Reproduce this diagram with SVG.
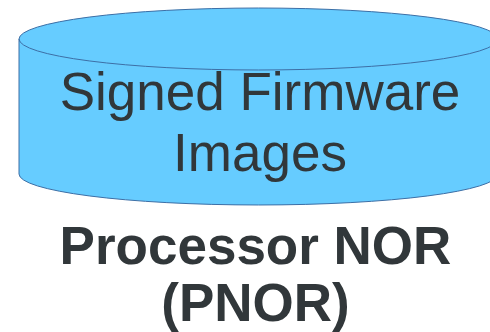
<svg xmlns="http://www.w3.org/2000/svg" width="490" height="332" viewBox="0 0 490 332">
  <style>
    .body { fill: #66ccff; stroke: #3d6fa6; stroke-width: 1; }
    .rim { fill: none; stroke: #3d6fa6; stroke-width: 1; }
    .label { font-family: "Liberation Sans", Arial, sans-serif; fill: #31373a; text-anchor: middle; }
    .inner { font-size: 53px; }
    .caption { font-size: 53px; font-weight: bold; }
  </style>
  <g id="pnor">
    <!-- storage cylinder -->
    <path class="body" d="M19,39 L19,174 A239.5,31 0 0 0 498,174 L498,39 A239.5,31 0 0 0 19,39 Z"/>
    <path class="rim" d="M19,39 A239.5,31 0 0 0 498,39"/>
    <text class="label inner" x="260" y="110">Signed Firmware</text>
    <text class="label inner" x="260" y="171">Images</text>
  </g>
  <g id="caption">
    <text class="label caption" x="255.5" y="264">Processor NOR</text>
    <text class="label caption" x="255.5" y="321">(PNOR)</text>
  </g>
</svg>
